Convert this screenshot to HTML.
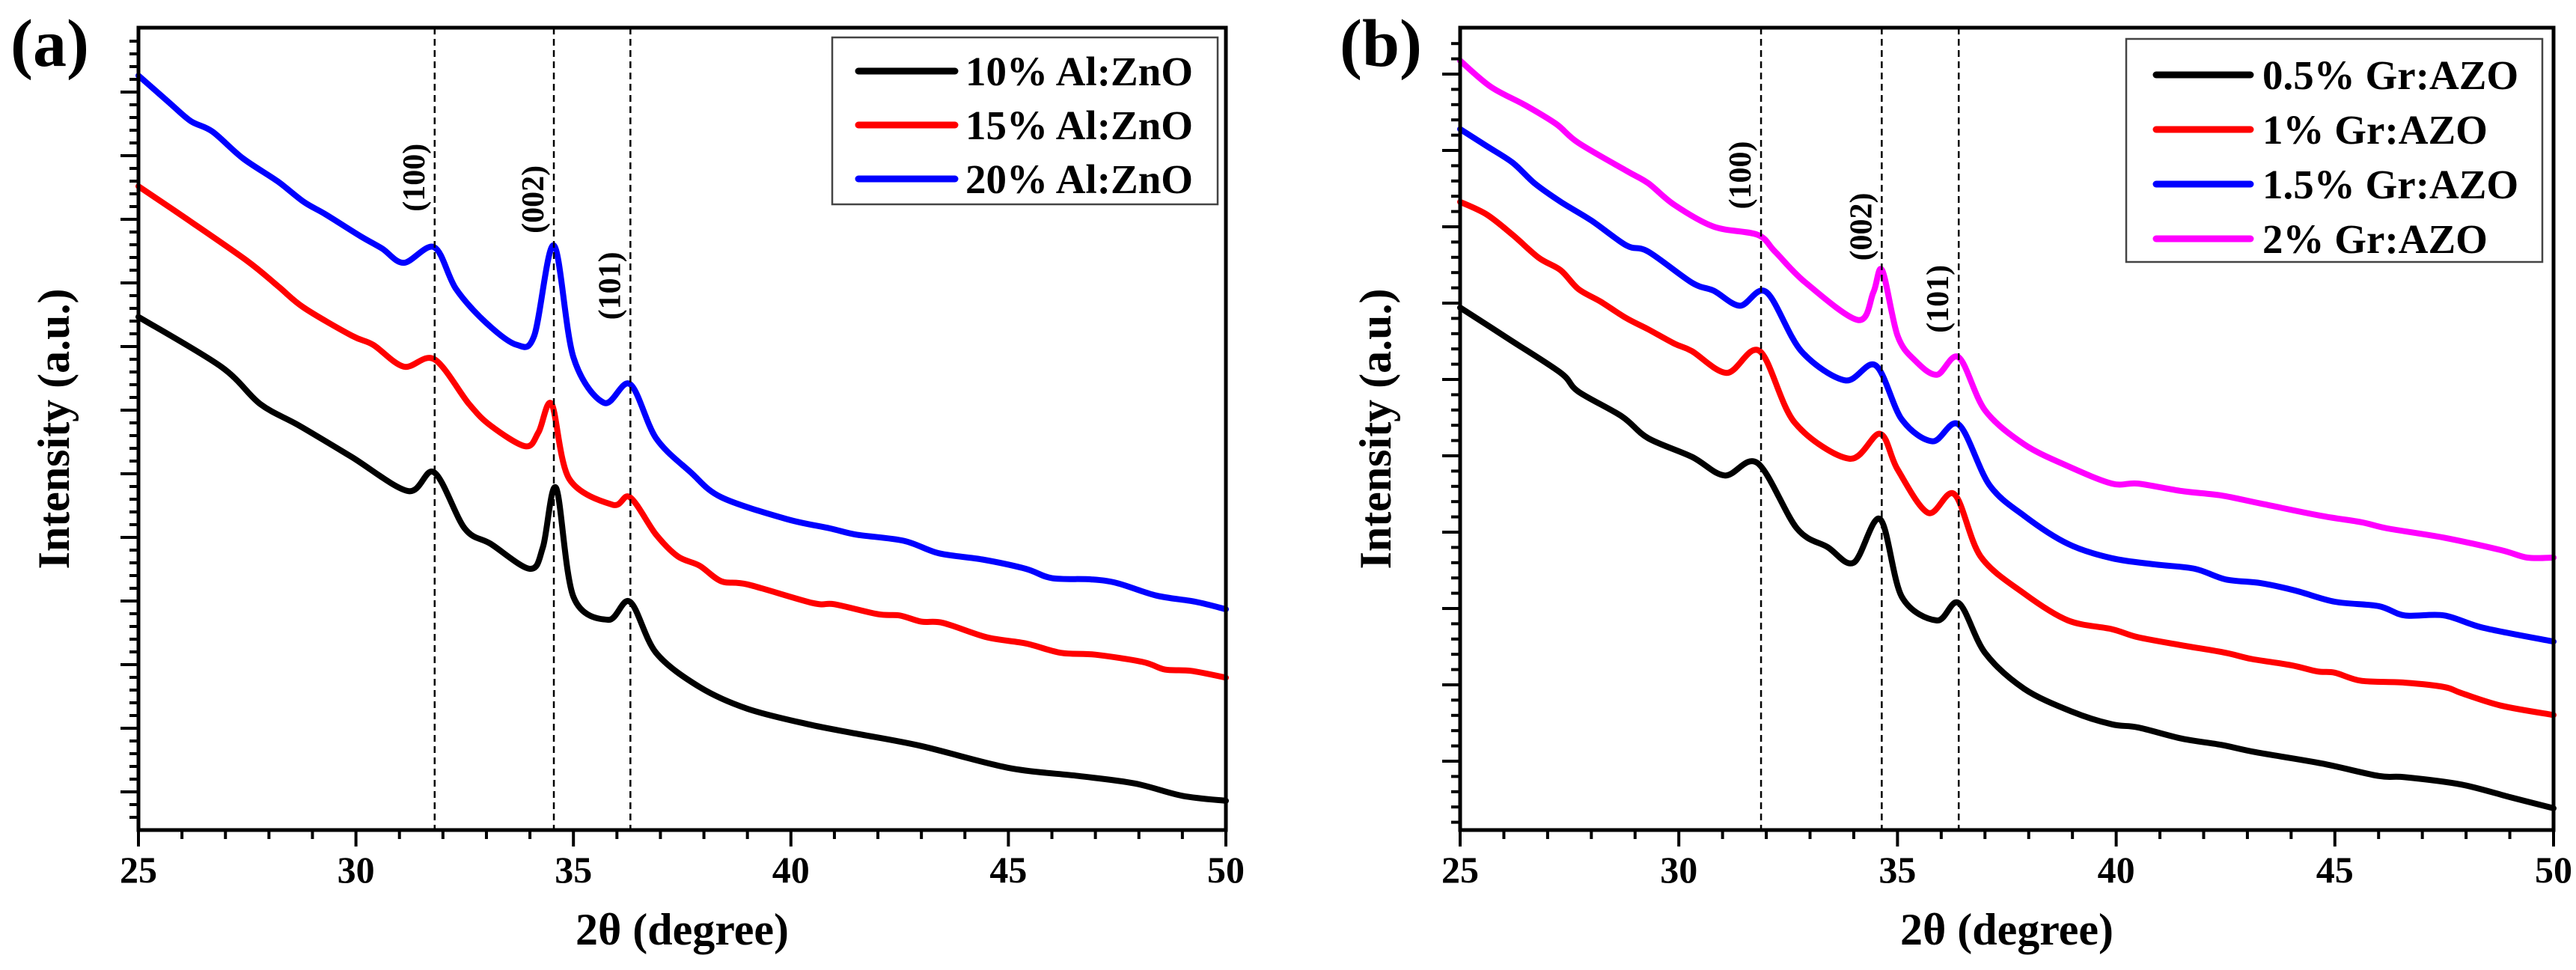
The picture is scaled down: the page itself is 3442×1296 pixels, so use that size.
<!DOCTYPE html>
<html><head><meta charset="utf-8">
<style>
html,body{margin:0;padding:0;background:#fff;}
svg{display:block;}
text{font-family:"Liberation Serif","Times New Roman",serif;font-weight:bold;fill:#000;}
</style></head>
<body>
<svg id="fig" width="3442" height="1296" viewBox="0 0 3442 1296" xmlns="http://www.w3.org/2000/svg">
</svg>
<script>
// ---- Panel (a) data ----
const aBlackX=[25,26.9,27.8,28.7,29.9,31.2,31.8,32.5,33.1,34,34.3,34.6,35,35.8,36.3,36.9,37.9,39,40.4,41.5,43,45,46.6,47.9,49,50];
const aBlackY=[825,745,685,650,600,545,575,485,460,420,455,550,375,338,367,285,230,195,170,155,135,100,87,75,55,47];
const aRedX=[25,26.1,27.5,28.2,28.8,29.9,30.4,31.1,31.8,32.6,33.1,33.9,34.2,34.5,34.9,35.9,36.3,36.9,37.4,37.9,38.4,39,40.5,41,42,42.5,43,43.5,44.5,45.4,46.2,47,48.1,48.6,49.2,50];
const aRedY=[1035,983,915,875,840,795,780,745,757,685,650,617,640,685,565,523,535,475,440,425,400,395,365,363,347,345,335,333,310,300,285,282,270,258,256,245];
const aBlueX=[25,25.7,26.2,26.7,27.4,28.2,28.8,29.3,30.1,30.6,31.1,31.8,32.3,33,33.7,34.1,34.55,35,35.7,36.3,36.9,37.7,38.4,39.9,40.9,41.5,42.6,43.4,44.4,45.4,46,46.9,47.5,48.4,49.3,50];
const aBlueY=[1213,1170,1140,1123,1080,1043,1010,990,955,935,912,937,870,815,780,795,940,760,687,717,630,575,535,500,485,475,465,445,435,420,405,403,397,377,367,355];
const aPeaks=[31.81,34.55,36.31];
const aPeakLabels=["(100)","(002)","(101)"];
const aLabelY=[1049,1014,875];
const aSeriesNames=["10% Al:ZnO","15% Al:ZnO","20% Al:ZnO"];
// ---- Panel (b) data ----
const bBlackX=[25,26.1,27.3,27.7,28.7,29.3,30.3,31.05,31.8,32.7,33.4,34,34.6,35.1,35.9,36.4,37,37.9,39,39.9,40.5,41.5,42.4,43.2,44.7,46,46.6,47.9,49,50];
const bBlackY=[840,790,735,705,665,630,600,570,590,485,455,430,500,375,337,365,285,227,190,170,165,147,137,125,107,87,85,73,53,35];
const bRedX=[25,25.6,26.2,26.8,27.3,27.7,28.2,28.8,29.3,29.9,30.3,31.1,31.85,32.65,33.9,34.6,35,35.7,36.3,36.9,37.9,38.9,39.9,40.5,41.5,42.5,43.1,44,44.6,45,45.6,46.6,47.5,47.9,48.8,50];
const bRedY=[1010,990,957,920,900,870,850,823,805,782,770,735,770,655,597,637,580,510,540,440,380,337,323,310,297,285,275,265,255,253,240,237,230,220,200,185];
const bBlueX=[25,25.6,26.2,26.7,27.3,28,28.8,29.3,30.3,30.8,31.4,32,32.8,33.8,34.5,35.1,35.8,36.4,37.1,37.9,38.9,39.9,40.9,41.8,42.5,43.3,44.1,45,46,46.6,47.5,48.4,50];
const bBlueY=[1127,1100,1073,1040,1010,980,940,930,880,867,843,865,770,723,747,660,625,652,555,505,460,437,427,420,403,397,385,367,360,345,345,325,303];
const bMagX=[25,25.7,26.5,27.2,27.7,28.8,29.3,29.9,30.8,31.8,32.2,32.9,34.1,34.45,34.65,35,35.4,35.9,36.4,37,37.9,38.9,39.9,40.5,41.5,42.4,43.3,44.7,45.6,46.2,47.5,48.8,49.4,50];
const bMagY=[1237,1195,1165,1135,1105,1060,1040,1005,970,957,930,880,820,865,900,795,755,732,760,675,620,585,557,557,545,538,525,505,495,485,470,450,438,438];
const bPeaks=[31.88,34.64,36.40];
const bPeakLabels=["(100)","(002)","(101)"];
const bLabelY=[1053,970,854];
const bSeriesNames=["0.5% Gr:AZO","1% Gr:AZO","1.5% Gr:AZO","2% Gr:AZO"];
const xTicks=[25,30,35,40,45,50];

const NS="http://www.w3.org/2000/svg";
const FONT='Liberation Serif, Times New Roman, serif';
const svg=document.getElementById('fig');
function mk(tag,attrs,parent){const e=document.createElementNS(NS,tag);for(const k in attrs)e.setAttribute(k,attrs[k]);if(tag==='text'){e.setAttribute('font-family',FONT);e.setAttribute('font-weight','bold');}(parent||svg).appendChild(e);return e;}

function smoothPath(pts){
  let d="M"+pts[0][0].toFixed(1)+","+pts[0][1].toFixed(1);
  for(let i=0;i<pts.length-1;i++){
    const p0=pts[Math.max(0,i-1)],p1=pts[i],p2=pts[i+1],p3=pts[Math.min(pts.length-1,i+2)];
    const t=0.16;
    const c1x=p1[0]+(p2[0]-p0[0])*t, c1y=p1[1]+(p2[1]-p0[1])*t;
    const c2x=p2[0]-(p3[0]-p1[0])*t, c2y=p2[1]-(p3[1]-p1[1])*t;
    d+=" C"+c1x.toFixed(1)+","+c1y.toFixed(1)+" "+c2x.toFixed(1)+","+c2y.toFixed(1)+" "+p2[0].toFixed(1)+","+p2[1].toFixed(1);
  }
  return d;
}

function panel(cfg){
  const g=mk('g',{});
  
  
  const L=cfg.left,R=cfg.right,T=37,B=1109;
  const xs=v=>L+(v-25)/25*(R-L);
  const ys=v=>B-v*(B-T)/1290;
  cfg.series.forEach((s,i)=>{
    const pts=s.x.map((xv,j)=>[xs(xv),ys(s.y[j])]);
    const p=mk('path',{d:smoothPath(pts),fill:'none',stroke:s.color,'stroke-width':8,'stroke-linejoin':'round','stroke-linecap':'round'},g);
    
    
  });
  cfg.peaks.forEach((pk,i)=>{
    const l=mk('line',{x1:xs(pk),x2:xs(pk),y1:T,y2:B,stroke:'#000','stroke-width':2.5,'stroke-dasharray':'9,6'},g);
    
    
    const lx=xs(pk)-14, ly=ys(cfg.labelY[i]);
    const t=mk('text',{x:lx,y:ly,'font-size':42,'text-anchor':'middle',transform:'rotate(-90 '+lx+' '+ly+')'},g);
    t.textContent=cfg.peakLabels[i];
    
    
  });
  const fr=mk('rect',{x:L,y:T,width:R-L,height:B-T,fill:'none',stroke:'#000','stroke-width':5},g);
  
  
  for(let v=25;v<=50;v++){
    const major=(v%5===0);
    mk('line',{x1:xs(v),x2:xs(v),y1:B,y2:B+(major?22:12),stroke:'#000','stroke-width':4},g);
  }
  xTicks.forEach(v=>{
    const t=mk('text',{x:xs(v),y:B+70,'font-size':50,'text-anchor':'middle'},g);
    t.textContent=v;
    
    
  });
  for(let y=cfg.yMajor0-cfg.ySpace; y<B; y+=cfg.ySpace/5){
    if(y<=T+2) continue;
    const rel=Math.round((y-cfg.yMajor0)/(cfg.ySpace/5));
    const major=(((rel%5)+5)%5===0);
    mk('line',{x1:L-(major?24:12),x2:L,y1:y,y2:y,stroke:'#000','stroke-width':4},g);
  }
  const xt=mk('text',{x:(L+R)/2,y:1262,'font-size':60,'text-anchor':'middle'},g);
  xt.textContent='2θ (degree)';
  
  
  const yx=cfg.yTitleX, yy=(T+B)/2;
  const yt=mk('text',{x:yx,y:yy,'font-size':60,'text-anchor':'middle',transform:'rotate(-90 '+yx+' '+yy+')'},g);
  yt.textContent='Intensity (a.u.)';
  
  
  const pl=mk('text',{x:cfg.letterX,y:88,'font-size':90},g);
  pl.textContent=cfg.letter;
  
  
  const lg=mk('g',{},g);
  
  
  mk('rect',{x:cfg.leg.x,y:cfg.leg.y,width:cfg.leg.w,height:cfg.leg.h,fill:'#fff',stroke:'#444','stroke-width':2.5},lg);
  cfg.series.forEach((s,i)=>{
    const ry=cfg.leg.row0+i*cfg.leg.dy;
    const e=mk('g',{},lg);
    
    
    mk('line',{x1:cfg.leg.lx1,x2:cfg.leg.lx2,y1:ry,y2:ry,stroke:s.color,'stroke-width':9,'stroke-linecap':'round'},e);
    const t=mk('text',{x:cfg.leg.tx,y:ry+19,'font-size':55},e);
    t.textContent=cfg.names[i];
  });
}

panel({name:'panel-a',letter:'(a)',letterX:14,left:185,right:1638,yMajor0:123,ySpace:85,yTitleX:92,
  series:[{key:'10pct',color:'#000',x:aBlackX,y:aBlackY},{key:'15pct',color:'#ff0000',x:aRedX,y:aRedY},{key:'20pct',color:'#0000ff',x:aBlueX,y:aBlueY}],
  names:aSeriesNames,peaks:aPeaks,peakLabels:aPeakLabels,labelY:aLabelY,
  leg:{x:1112,y:50,w:515,h:223,lx1:1147,lx2:1276,tx:1290,row0:95,dy:72}});
panel({name:'panel-b',letter:'(b)',letterX:1790,left:1951,right:3412,yMajor0:99,ySpace:102,yTitleX:1858,
  series:[{key:'0.5pct',color:'#000',x:bBlackX,y:bBlackY},{key:'1pct',color:'#ff0000',x:bRedX,y:bRedY},{key:'1.5pct',color:'#0000ff',x:bBlueX,y:bBlueY},{key:'2pct',color:'#ff00ff',x:bMagX,y:bMagY}],
  names:bSeriesNames,peaks:bPeaks,peakLabels:bPeakLabels,labelY:bLabelY,
  leg:{x:2841,y:52,w:556,h:298,lx1:2881,lx2:3007,tx:3023,row0:100,dy:73}});
</script>
</body></html>
